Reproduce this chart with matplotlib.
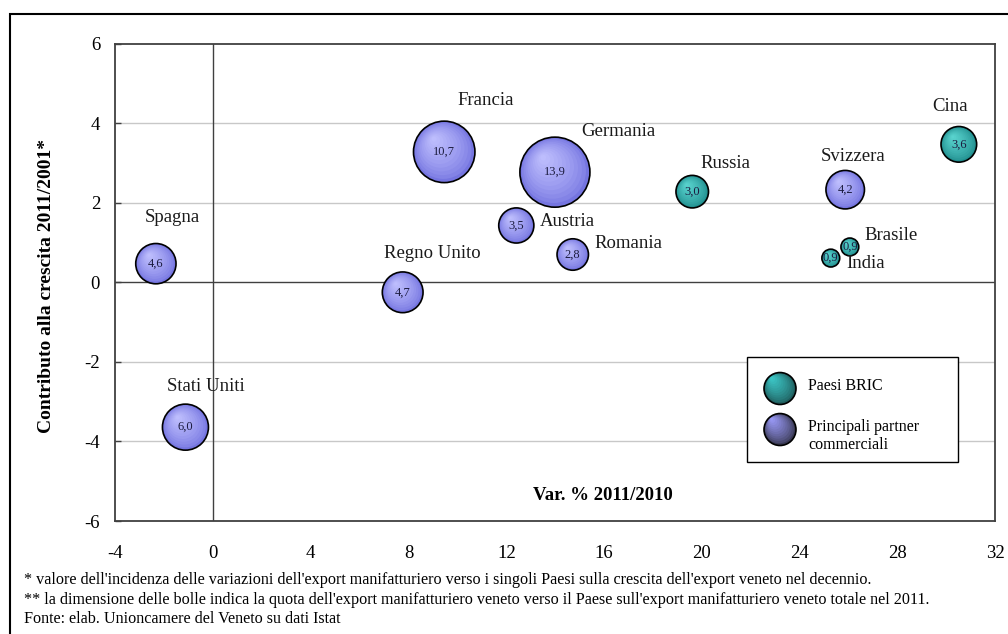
import matplotlib
matplotlib.use('Agg')
import matplotlib.pyplot as plt
import matplotlib.transforms as mtransforms
from matplotlib.patches import Rectangle
import numpy as np

plt.rcParams['font.family'] = ['Liberation Serif', 'DejaVu Serif']

# Paesi, variazione % 2011/2010, contributo alla crescita 2011/2001, quota 2011
paesi = ['Spagna', 'Stati Uniti', 'Regno Unito', 'Francia', 'Austria',
         'Germania', 'Romania', 'Russia', 'Svizzera', 'Brasile', 'India',
         'Cina']
var_2011 = [-2.34, -1.13, 7.76, 9.46, 12.41, 13.99, 14.72, 19.61, 25.87,
            26.06, 25.28, 30.52]
contributo = [0.47, -3.64, -0.25, 3.28, 1.43, 2.77, 0.70, 2.28, 2.33,
              0.89, 0.61, 3.47]
quota = [4.6, 6.0, 4.7, 10.7, 3.5, 13.9, 2.8, 3.0, 4.2, 0.9, 0.9, 3.6]
gruppo = ['partner', 'partner', 'partner', 'partner', 'partner', 'partner',
          'partner', 'bric', 'partner', 'bric', 'bric', 'bric']

x_ticks = [-4, 0, 4, 8, 12, 16, 20, 24, 28, 32]
y_ticks = [-6, -4, -2, 0, 2, 4, 6]

# label offsets (points) from bubble centre
label_offsets = [(12, 33), (15, 29), (21, 28), (30, 37), (37, 3), (46, 29),
                 (40, 8), (24, 20), (6, 24), (30, 8), (25, -4), (-6, 27)]

colori = {
    'partner': ((0.46, 0.46, 0.88), (0.76, 0.76, 1.0)),
    'bric': ((0.13, 0.56, 0.56), (0.36, 0.84, 0.82)),
}
legend_colori = {
    'partner': ((0.22, 0.22, 0.32), (0.62, 0.62, 1.0)),
    'bric': ((0.12, 0.36, 0.36), (0.24, 0.80, 0.80)),
}

SIZE_K = 183.0


def gradient_bubble(ax, fig, x, y, s, rim, hi, base, n=12, shift=0.45,
                    z=3):
    '''Draw a circle marker shaded from rim colour to a top-left highlight.'''
    d = np.sqrt(s)
    rim = np.array(rim)
    hi = np.array(hi)
    ax.scatter([x], [y], s=s, color=rim, edgecolors='none', transform=base,
               zorder=z, clip_on=False)
    for k in range(1, n):
        f = 1 - k / n
        off = (1 - f) * d / 2 * shift
        trans = mtransforms.offset_copy(base, fig=fig, x=-off * 0.8,
                                        y=off, units='points')
        col = rim + (hi - rim) * (1 - f) ** 0.7
        ax.scatter([x], [y], s=s * f * f, color=col, edgecolors='none',
                   transform=trans, zorder=z, clip_on=False)
    ax.scatter([x], [y], s=s, facecolors='none', edgecolors='black',
               linewidths=1.2, transform=base, zorder=z, clip_on=False)


fig = plt.figure(figsize=(10.08, 6.34), dpi=100)
ax = fig.add_axes([0.1144, 0.1782, 0.8727, 0.7529])

ax.set_xlim(-4, 32)
ax.set_ylim(-6, 6)
for yv in [-4, -2, 2, 4]:
    ax.axhline(yv, color='#c8c8c8', lw=1.0, zorder=1)
ax.axhline(0, color='#404040', lw=1.0, zorder=1)
ax.axvline(0, color='#404040', lw=1.0, zorder=1)
for sp in ax.spines.values():
    sp.set_color('#404040')
    sp.set_linewidth(1.3)

ax.set_xticks(x_ticks)
ax.set_yticks(y_ticks)
ax.set_xticklabels([str(v) for v in x_ticks])
ax.set_yticklabels([str(v) for v in y_ticks])
ax.tick_params(axis='x', length=0, pad=17, labelsize=13.5)
ax.tick_params(axis='y', direction='in', length=4, width=1, color='#404040',
               pad=11, labelsize=13.5)

for i, p in enumerate(paesi):
    s = quota[i] * SIZE_K
    rim, hi = colori[gruppo[i]]
    gradient_bubble(ax, fig, var_2011[i], contributo[i], s, rim, hi,
                    ax.transData, z=3 + i * 0.01)
    ax.text(var_2011[i], contributo[i], f'{quota[i]:.1f}'.replace('.', ','),
            ha='center', va='center', fontsize=9, color='#1c1c40',
            zorder=5)
    dx, dy = label_offsets[i]
    ax.annotate(p, (var_2011[i], contributo[i]), xytext=(dx, dy),
                textcoords='offset points', ha='center', va='center',
                fontsize=13.5, color='#1a1a1a', zorder=6)

ax.text(0.554, 0.0545, 'Var. % 2011/2010', transform=ax.transAxes,
        ha='center', va='center', fontsize=13.5, fontweight='bold')
fig.text(47 / 1008, 1 - 286 / 634, 'Contributo alla crescita 2011/2001*',
         rotation=90, ha='center', va='center', fontsize=14,
         fontweight='bold')

# legend box
ax.add_patch(Rectangle((0.7184, 0.1236), 0.2399, 0.2194,
                       transform=ax.transAxes, facecolor='white',
                       edgecolor='black', lw=1.0, zorder=7))
for key, ly in [('bric', 0.2776), ('partner', 0.1917)]:
    rim, hi = legend_colori[key]
    gradient_bubble(ax, fig, 0.7556, ly, 530, rim, hi, ax.transAxes,
                    shift=0.7, z=8)
ax.text(0.7875, 0.283, 'Paesi BRIC', transform=ax.transAxes, ha='left',
        va='center', fontsize=11.5, zorder=9)
ax.text(0.7875, 0.178, 'Principali partner\ncommerciali',
        transform=ax.transAxes, ha='left', va='center', fontsize=11.5,
        linespacing=1.2, zorder=9)

note = [
    "* valore dell'incidenza delle variazioni dell'export manifatturiero "
    "verso i singoli Paesi sulla crescita dell'export veneto nel decennio.",
    "** la dimensione delle bolle indica la quota dell'export manifatturiero "
    "veneto verso il Paese sull'export manifatturiero veneto totale nel 2011.",
    "Fonte: elab. Unioncamere del Veneto su dati Istat",
]
for yp, t in zip([580, 600, 619], note):
    fig.text(24 / 1008, 1 - yp / 634, t, ha='left', va='center',
             fontsize=11.6)

# outer frame
fig.add_artist(Rectangle((9.7 / 1008, -0.05), 1.05, 0.05 + 1 - 14.3 / 634,
                         transform=fig.transFigure, facecolor='none',
                         edgecolor='black', lw=1.5))

fig.savefig('out.png', dpi=100)
